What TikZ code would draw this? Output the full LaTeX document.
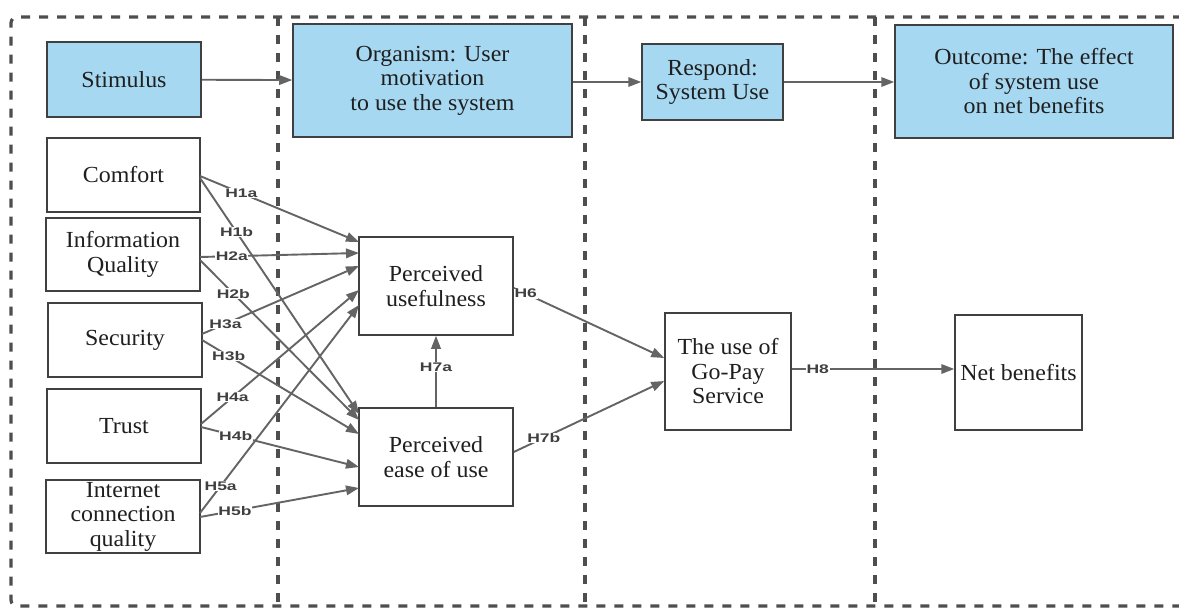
\documentclass[tikz,border=0pt]{standalone}
\usepackage{fontspec}
\setmainfont{Liberation Serif}[FakeStretch=1.04]
\newfontfamily\hypfont{Liberation Sans}[FakeStretch=1.4]
\usetikzlibrary{arrows.meta}
\definecolor{boxblue}{RGB}{166,216,242}
\definecolor{edgegray}{RGB}{64,64,64}
\definecolor{arrowgray}{RGB}{100,100,100}
\definecolor{dashgray}{RGB}{78,78,78}
\tikzset{
  panel/.style={draw=dashgray, line width=3.2pt, dash pattern=on 9pt off 9pt},
  box/.style={draw=edgegray, line width=1.5pt, align=center, inner sep=2pt,
    font=\rmfamily\fontsize{23}{24.5}\selectfont, text=black!88},
  stagebox/.style={box, fill=boxblue},
  link/.style={draw=arrowgray, line width=1.9pt, -{Triangle[length=13pt,width=9.5pt]}},
  hyp/.style={font=\hypfont\bfseries\fontsize{12.5}{12.5}\selectfont, text=black!75,
    fill=white, inner sep=0.6pt}
}
\begin{document}
\begin{tikzpicture}[x=1pt,y=-1pt]
\useasboundingbox (0,0) rectangle (1179,608);
\fill[white] (0,0) rectangle (1179,608);

% stage panels
\draw[panel, rounded corners=6pt] (1200,17) -- (11,17) -- (11,606) -- (1200,606);
\draw[panel] (278,17) -- (278,610);
\draw[panel] (585,17) -- (585,610);
\draw[panel] (875,17) -- (875,610);

% stage headers
\node[stagebox, minimum width=154pt, minimum height=75pt] (stim) at (124,79.5) {Stimulus};
\node[stagebox, minimum width=279pt, minimum height=113pt] (org) at (432.5,80.5) {Organism: User\\motivation\\to use the system};
\node[stagebox, minimum width=141pt, minimum height=76pt] (resp) at (712.5,82) {Respond:\\System Use};
\node[stagebox, minimum width=278pt, minimum height=113pt] (out) at (1034,81.5) {Outcome: The effect\\of system use\\on net benefits};

\draw[link] (stim) -- (org);
\draw[link] (org.east |- resp) -- (resp);
\draw[link] (resp) -- (out.west |- resp);

% stimulus factors
\node[box, minimum width=153pt, minimum height=74pt] (comf) at (123.5,175) {Comfort};
\node[box, minimum width=154pt, minimum height=73pt] (iq) at (123,254.5) {Information\\Quality};
\node[box, minimum width=154pt, minimum height=74pt] (sec) at (125,340) {Security};
\node[box, minimum width=154pt, minimum height=74pt] (trust) at (124,426) {Trust};
\node[box, minimum width=154pt, minimum height=73pt] (net) at (123,516.5) {Internet\\connection\\quality};

% organism constructs
\node[box, minimum width=154pt, minimum height=98pt] (pu) at (436,286) {Perceived\\usefulness};
\node[box, minimum width=154pt, minimum height=98pt] (peou) at (436,457) {Perceived\\ease of use};

% response and outcome
\node[box, minimum width=126pt, minimum height=117pt] (use) at (728,371.5) {The use of\\Go-Pay\\Service};
\node[box, minimum width=127pt, minimum height=115pt] (nb) at (1018.5,372.5) {Net benefits};

% anchor points on the box sides
\coordinate (c1) at (200,176);  \coordinate (c2) at (200,178);
\coordinate (i1) at (200,257);  \coordinate (i2) at (200,260);
\coordinate (s1) at (202,334);  \coordinate (s2) at (202,340);
\coordinate (t1) at (201,424);  \coordinate (t2) at (201,427);
\coordinate (n1) at (200,513);  \coordinate (n2) at (200,517);
\coordinate (pu1) at (359,242); \coordinate (pu2) at (359,253);
\coordinate (pu3) at (359,266); \coordinate (pu4) at (359,290);
\coordinate (pu5) at (359,305);
\coordinate (pe1) at (359,414); \coordinate (pe2) at (359,420);
\coordinate (pe3) at (359,434); \coordinate (pe4) at (359,467);
\coordinate (pe5) at (359,488);

% hypothesised paths
\draw[link] (c1) -- node[hyp, pos=0.26] {H1a} (pu1);
\draw[link] (c2) -- node[hyp, pos=0.23] {H1b} (pe1);
\draw[link] (i1) -- node[hyp, pos=0.20] {H2a} (pu2);
\draw[link] (i2) -- node[hyp, pos=0.21] {H2b} (pe2);
\draw[link] (s1) -- node[hyp, pos=0.15] {H3a} (pu3);
\draw[link] (s2) -- node[hyp, pos=0.17] {H3b} (pe3);
\draw[link] (t1) -- node[hyp, pos=0.20] {H4a} (pu4);
\draw[link] (t2) -- node[hyp, pos=0.22] {H4b} (pe4);
\draw[link] (n1) -- node[hyp, pos=0.13] {H5a} (pu5);
\draw[link] (n2) -- node[hyp, pos=0.22] {H5b} (pe5);

\draw[link] (pu.east |- 0,288) -- node[hyp, pos=0.08] {H6} (use.west |- 0,358);
\draw[link] (peou.north) -- node[hyp, pos=0.56] {H7a} (pu.south);
\draw[link] (peou.east |- 0,452) -- node[hyp, pos=0.2] {H7b} (use.west |- 0,381);
\draw[link] (use.east |- 0,369) -- node[hyp, pos=0.16] {H8} (nb.west |- 0,369);
\end{tikzpicture}
\end{document}
